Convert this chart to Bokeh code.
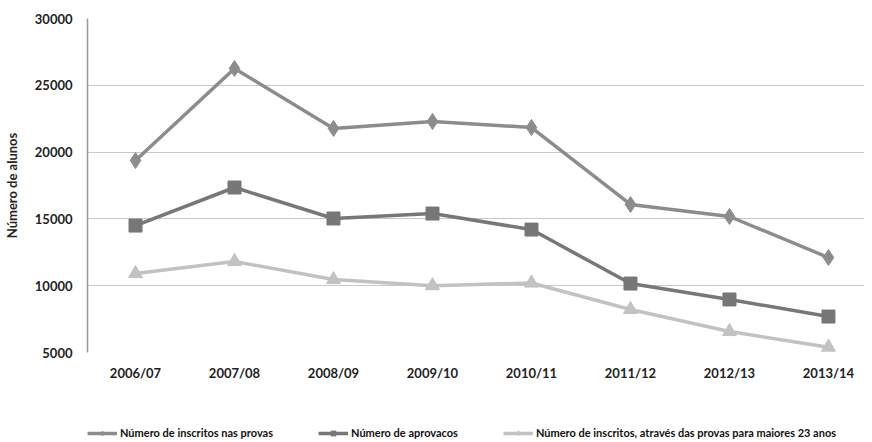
from bokeh.plotting import figure
from bokeh.layouts import column
from bokeh.models import Range1d, FixedTicker, Legend, LegendItem
from bokeh.embed import file_html
from bokeh.resources import INLINE

categories = ["2006/07", "2007/08", "2008/09", "2009/10", "2010/11", "2011/12", "2012/13", "2013/14"]
inscritos = [19370, 26260, 21770, 22290, 21840, 16080, 15180, 12110]
aprovados = [14500, 17350, 15030, 15400, 14200, 10160, 8970, 7690]
maiores23 = [10910, 11810, 10460, 10000, 10200, 8220, 6570, 5400]
y_ticks = [5000, 10000, 15000, 20000, 25000, 30000]
labels = ["Número de inscritos nas provas", "Número de aprovacos",
          "Número de inscritos, através das provas para maiores 23 anos"]

xs = list(range(len(categories)))

p = figure(frame_width=777, frame_height=334, output_backend="svg", toolbar_location=None,
           x_range=Range1d(-0.485, 7.364), y_range=Range1d(5000, 30000),
           min_border_top=18, min_border_right=0, min_border_left=5, min_border_bottom=0)
p.outline_line_color = None
p.background_fill_color = "white"
p.border_fill_color = "white"

FONT = "Lato"
p.xaxis.ticker = FixedTicker(ticks=xs)
p.xaxis.major_label_overrides = {i: c for i, c in zip(xs, categories)}
p.xaxis.axis_line_color = None
p.xaxis.major_tick_line_color = None
p.xaxis.minor_tick_line_color = None
p.xaxis.major_label_text_font = FONT
p.xaxis.major_label_text_font_style = "bold"
p.xaxis.major_label_text_font_size = "13px"
p.xaxis.major_label_text_color = "#222222"
p.xaxis.major_label_standoff = 6

p.yaxis.ticker = FixedTicker(ticks=y_ticks)
p.yaxis.axis_line_color = "#999999"
p.yaxis.axis_line_width = 1.5
p.yaxis.major_tick_line_color = None
p.yaxis.minor_tick_line_color = None
p.yaxis.major_label_text_font = FONT
p.yaxis.major_label_text_font_style = "bold"
p.yaxis.major_label_text_font_size = "13px"
p.yaxis.major_label_text_color = "#222222"
p.yaxis.major_label_standoff = 9
p.yaxis.axis_label = "Número de alunos"
p.yaxis.axis_label_text_font = FONT
p.yaxis.axis_label_text_font_style = "bold"
p.yaxis.axis_label_text_font_size = "13px"
p.yaxis.axis_label_text_color = "#222222"
p.yaxis.axis_label_standoff = 12

p.xgrid.grid_line_color = None
p.ygrid.ticker = FixedTicker(ticks=y_ticks)
p.ygrid.grid_line_color = "#c8c8c8"
p.ygrid.grid_line_width = 1.2

colors = ["#8c8c8c", "#777777", "#c2c2c2"]
markers = ["diamond", "square", "triangle"]
sizes = [16, 13, 14]
series = [inscritos, aprovados, maiores23]
for ser, col, mk, sz in zip(series, colors, markers, sizes):
    p.line(xs, ser, line_color=col, line_width=3.5)
    p.scatter(xs, ser, marker=mk, size=sz, fill_color=col, line_color=col)

# legend strip as a separate figure (legend drawn inside its frame);
# its renderers hold the same series but lie outside this strip's ranges
lg = figure(width=856, height=58, output_backend="svg", toolbar_location=None,
            x_range=Range1d(0, 1), y_range=Range1d(0, 1),
            min_border_top=0, min_border_bottom=0, min_border_left=0, min_border_right=0)
lg.axis.visible = False
lg.grid.visible = False
lg.outline_line_color = None
lg.border_fill_color = "white"
items = []
for lab, ser, col, mk, sz in zip(labels, series, colors, markers, [10, 8, 9]):
    r1 = lg.line(xs, ser, line_color=col, line_width=3.5)
    r2 = lg.scatter(xs, ser, marker=mk, size=sz, fill_color=col, line_color=col)
    items.append(LegendItem(label=lab, renderers=[r1, r2]))

legend = Legend(items=items, orientation="horizontal", location=(0, 2),
                border_line_color=None, background_fill_alpha=0,
                label_text_font=FONT, label_text_font_style="bold",
                label_text_font_size="11px", label_text_color="#111111",
                glyph_width=30, glyph_height=12, spacing=45, padding=0,
                label_standoff=3, margin=0)
lg.add_layout(legend, "center")

layout = column(p, lg, spacing=0)
open("out.html", "w").write(file_html(layout, INLINE))
